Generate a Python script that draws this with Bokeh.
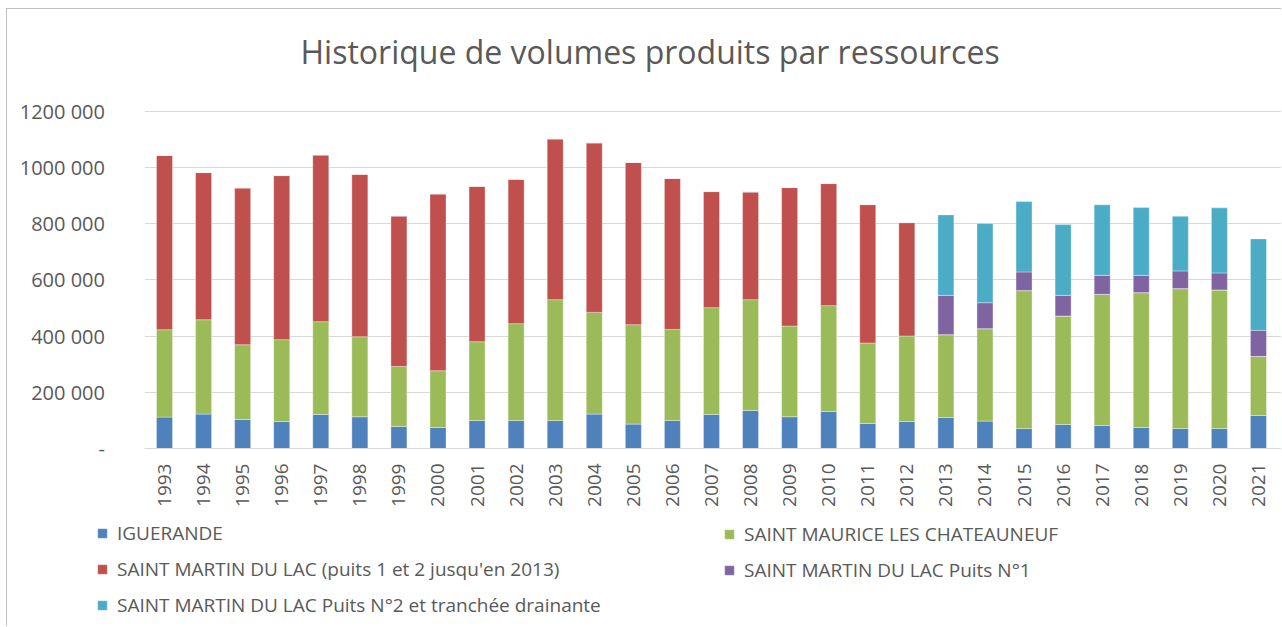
from bokeh.plotting import figure
from bokeh.models import Range1d, FixedTicker, Legend, LegendItem, Label, BoxAnnotation
from bokeh.embed import file_html
from bokeh.resources import INLINE
import math

years = list(range(1993, 2022))

iguerande = [111700, 122400, 103200, 96100, 121000, 112800, 78300, 74700, 99700, 99700,
             99700, 122400, 86800, 99700, 121000, 135200, 112800, 131700, 89000, 96100,
             110300, 97500, 71200, 85400, 81900, 74700, 71200, 71200, 117400]
st_maurice = [310700, 335600, 265800, 290800, 329900, 284700, 213500, 201800, 280000, 344100,
              429500, 361600, 353400, 323800, 379700, 394000, 322800, 376200, 286100, 303900,
              294400, 328500, 490100, 385800, 466200, 479400, 497200, 492500, 210000]
st_martin_12 = [619300, 523200, 557700, 583600, 593100, 577700, 535300, 628900, 552800, 513600,
                571900, 603000, 576600, 536400, 412900, 383300, 492200, 434200, 492200, 403300,
                0, 0, 0, 0, 0, 0, 0, 0, 0]
st_martin_p1 = [0] * 20 + [139800, 92500, 66500, 73300, 67600, 61600, 63000, 60600, 92600]
st_martin_p2 = [0] * 20 + [286100, 281200, 250200, 251600, 250600, 240900, 194300, 231300, 325300]

series_names = ["IGUERANDE",
                "SAINT MAURICE LES CHATEAUNEUF",
                "SAINT MARTIN DU LAC (puits 1 et 2 jusqu'en 2013)",
                "SAINT MARTIN DU LAC Puits N°1",
                "SAINT MARTIN DU LAC Puits N°2 et tranchée drainante"]
colors = ["#4f81bd", "#9bbb59", "#c0504d", "#8064a2", "#4bacc6"]

y_ticks = [0, 200000, 400000, 600000, 800000, 1000000, 1200000]
y_tick_labels = ["-", "200 000", "400 000", "600 000", "800 000", "1000 000", "1200 000"]

title_text = "Historique de volumes produits par ressources"

FONT = "Open Sans"
TXT = "#595959"
BORDER = "1px solid #bfbfbf"

# ---- layout geometry (page pixels) ----
W, H = 1275, 618            # canvas size; canvas starts at page (7, 9)
X0, Y0 = 7, 9
STEP = 39.07                # pixels per category
FIRST_CX = 164              # page x of first bar centre
PLOT_TOP, PLOT_BOTTOM = 110.5, 448.0   # page y of 1 200 000 and 0
y_top_val = y_ticks[-1]
upp = y_top_val / (PLOT_BOTTOM - PLOT_TOP)   # data units per pixel

def px_x(px):
    return years[0] + (px - FIRST_CX) / STEP

def px_y(py):
    return (PLOT_BOTTOM - py) * upp

x_start, x_end = px_x(X0), px_x(X0 + W)
y_start, y_end = px_y(Y0 + H), px_y(Y0)
axis_x = years[0] - 0.5

keys = ["s0", "s1", "s2", "s3", "s4"]
data = dict(years=years, s0=iguerande, s1=st_maurice, s2=st_martin_12, s3=st_martin_p1, s4=st_martin_p2)

p = figure(x_range=Range1d(x_start, x_end), y_range=Range1d(y_start, y_end),
           width=W, height=H, output_backend="svg", toolbar_location=None, title=None,
           min_border_left=0, min_border_right=0, min_border_top=0, min_border_bottom=0)
p.styles = {"margin-left": "6px", "margin-top": "8px", "border-left": BORDER, "border-top": BORDER}
p.outline_line_color = None
p.background_fill_color = "white"
p.border_fill_color = "white"

renderers = p.vbar_stack(keys, x="years", width=0.41, fill_color=colors, source=data,
                         line_color="white", line_alpha=0.35, line_width=1)

p.xgrid.grid_line_color = None
p.ygrid.ticker = FixedTicker(ticks=y_ticks)
p.ygrid.grid_line_color = "#d9d9d9"
p.ygrid.grid_line_width = 1

# white mask so the grid lines start at the plot area's left edge
mask = BoxAnnotation(right=axis_x, fill_color="white", fill_alpha=1.0, line_color=None, level="glyph")
p.add_layout(mask)

p.yaxis.fixed_location = axis_x
p.yaxis.ticker = FixedTicker(ticks=y_ticks)
p.yaxis.major_label_overrides = {t: l for t, l in zip(y_ticks, y_tick_labels)}
p.yaxis.axis_line_color = None
p.yaxis.major_tick_line_color = None
p.yaxis.minor_tick_line_color = None
p.yaxis.major_tick_out = 0
p.yaxis.major_tick_in = 0
p.yaxis.major_label_standoff = 40
p.yaxis.major_label_text_font = FONT
p.yaxis.major_label_text_font_size = "20px"
p.yaxis.major_label_text_color = TXT

p.xaxis.fixed_location = 0
p.xaxis.bounds = (axis_x, x_end)
p.xaxis.ticker = FixedTicker(ticks=years)
p.xaxis.axis_line_color = "#d9d9d9"
p.xaxis.major_tick_line_color = None
p.xaxis.minor_tick_line_color = None
p.xaxis.major_tick_out = 0
p.xaxis.major_tick_in = 0
p.xaxis.major_label_orientation = math.pi / 2
p.xaxis.major_label_standoff = 15
p.xaxis.major_label_text_font = FONT
p.xaxis.major_label_text_font_size = "19px"
p.xaxis.major_label_text_color = TXT

title = Label(x=px_x(300), y=px_y(51), text=title_text, text_font=FONT, text_font_size="32px",
              text_color=TXT, text_align="left", text_baseline="alphabetic")
p.add_layout(title)

def make_legend(idx, loc):
    items = [LegendItem(label=series_names[i], renderers=[renderers[i]]) for i in idx]
    return Legend(items=items, location=loc, padding=0, margin=0, spacing=10,
                  glyph_width=12, glyph_height=12, label_standoff=9,
                  label_text_font=FONT, label_text_font_size="19px", label_text_color=TXT,
                  border_line_color=None, background_fill_alpha=0)

# legend positions: pixels from the canvas' bottom-left corner
p.add_layout(make_legend([0, 2, 4], (96 - X0, (Y0 + H) - 618)))
p.add_layout(make_legend([1, 3], (723 - X0, (Y0 + H) - 583)))

open("out.html", "w").write(file_html(p, INLINE))
